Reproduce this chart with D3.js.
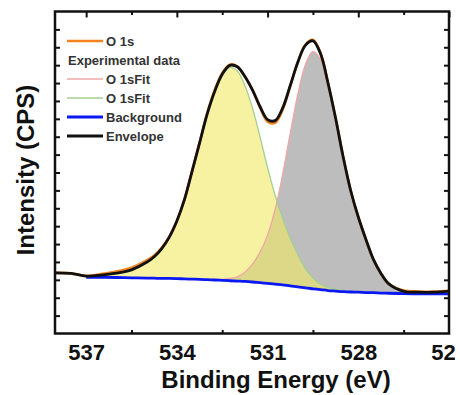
<!DOCTYPE html>
<html>
<head>
<meta charset="utf-8">
<script src="https://cdn.jsdelivr.net/npm/d3@7/dist/d3.min.js"></script>
<style>
  html, body { margin: 0; padding: 0; background: #fff; }
  svg { display: block; font-family: "Liberation Sans", Arial, sans-serif; }
</style>
</head>
<body>
<svg id="chart" width="460" height="395"></svg>
<script>
// binding energy grid (eV)
const energy = [538, 537.5, 537, 536.5, 536, 535.5,
    535, 534.75, 534.5, 534.25, 534, 533.75, 533.5, 533.25, 533, 532.75, 532.5, 532.25,
    532, 531.75, 531.5, 531.25, 531, 530.75, 530.5, 530.25, 530, 529.75, 529.5, 529.25,
    529, 528.75, 528.5, 528.25, 528, 527.75, 527.5, 527.25, 527,
    526.5, 526, 525.5, 525];

// O 1s raw counts (arb. units)
const o1sData = [3.39, 3.36, 3.22, 3.33, 3.47, 3.68,
    4.09, 4.36, 4.79, 5.41, 6.29, 7.48, 9.05, 10.67, 12.30, 13.60, 14.55, 15.03,
    14.92, 14.37, 13.60, 12.64, 11.84, 11.78, 12.52, 13.84, 15.16, 16.14, 16.42, 15.68,
    13.99, 12.03, 9.87, 7.98, 6.51, 5.27, 4.14, 3.36, 2.79,
    2.40, 2.35, 2.34, 2.39];

// lattice O component (pink edge, grey fill)
const fitLow = [null, null, 3.14, 3.14, 3.13, 3.11,
    3.10, 3.09, 3.08, 3.08, 3.07, 3.05, 3.04, 3.03, 3.01, 3.02, 3.03, 3.08,
    3.17, 3.43, 3.88, 4.55, 5.50, 6.93, 8.91, 11.20, 13.36, 15.03, 15.76, 15.34,
    13.81, 11.94, 9.82, 7.97, 6.51, 5.27, 4.14, 3.36, 2.79,
    2.31, 2.22, 2.22, 2.22];

// high BE component (green edge, yellow fill)
const fitHigh = [null, null, 3.21, 3.26, 3.37, 3.55,
    3.98, 4.29, 4.75, 5.39, 6.29, 7.48, 9.05, 10.64, 12.25, 13.51, 14.43, 14.87,
    14.67, 13.85, 12.61, 10.99, 9.27, 7.73, 6.42, 5.33, 4.41, 3.63, 3.10, 2.76,
    2.58, 2.47, 2.39, 2.33, 2.31, 2.29, 2.28, 2.26, 2.25,
    2.23, 2.22, 2.22, 2.22];

// Shirley background
const background = [null, null, 3.14, 3.14, 3.13, 3.11,
    3.10, 3.09, 3.08, 3.08, 3.07, 3.05, 3.04, 3.03, 3.01, 2.99, 2.97, 2.95,
    2.93, 2.91, 2.88, 2.84, 2.80, 2.76, 2.72, 2.66, 2.61, 2.55, 2.50, 2.45,
    2.40, 2.37, 2.34, 2.32, 2.31, 2.29, 2.28, 2.26, 2.25,
    2.23, 2.22, 2.22, 2.22];

const envelope = [3.39, 3.36, 3.21, 3.26, 3.37, 3.56,
    3.98, 4.29, 4.75, 5.39, 6.29, 7.48, 9.05, 10.64, 12.25, 13.53, 14.49, 14.99,
    14.91, 14.37, 13.62, 12.69, 11.96, 11.90, 12.61, 13.86, 15.16, 16.11, 16.36, 15.65,
    13.99, 12.03, 9.87, 7.98, 6.51, 5.27, 4.14, 3.36, 2.79,
    2.36, 2.31, 2.31, 2.37];

const xMajor = [537, 534, 531, 528, 525];
const xMinor = [535.5, 532.5, 529.5, 526.5];
const yTicks = [1, 2, 3, 4, 5, 6, 7, 8, 9, 10, 11, 12, 13, 14, 15, 16, 17];

const legendLabels = ["O 1s", "Experimental data", "O 1sFit", "O 1sFit", "Background", "Envelope"];
const legendKeys = ["data", null, "fitLow", "fitHigh", "bg", "env"];

const colors = {
    data: "#f5821f",
    fitLow: "#f2a6a6",
    fitHigh: "#a3cf93",
    bg: "#0a18f2",
    env: "#111111",
    fillLow: "#bdbdbd",
    fillHigh: "rgba(240,234,100,0.6)"
};
const widths = { data: 2.6, fitLow: 1.3, fitHigh: 1.3, bg: 2.8, env: 2.8 };

const svg = d3.select("#chart");
const plotLeft = 55, plotRight = 449, plotTop = 11.5, plotBottom = 333.5;

const x = d3.scaleLinear().domain([538.03, 525]).range([plotLeft, plotRight]);
const y = d3.scaleLinear().domain([0, 18]).range([plotBottom, plotTop]);

const rows = energy.map((e, i) => ({
    e: e,
    data: o1sData[i],
    fitLow: fitLow[i],
    fitHigh: fitHigh[i],
    bg: background[i],
    env: envelope[i]
}));

const curve = d3.curveCatmullRom.alpha(0.5);

const defs = svg.append("defs");
defs.append("clipPath").attr("id", "plotClip")
    .append("rect").attr("x", plotLeft).attr("y", plotTop)
    .attr("width", plotRight - plotLeft).attr("height", plotBottom - plotTop);
defs.append("clipPath").attr("id", "labelClip")
    .append("rect").attr("x", 0).attr("y", 0).attr("width", 455).attr("height", 395);

const plot = svg.append("g").attr("clip-path", "url(#plotClip)");

function areaFor(key) {
    return d3.area()
        .defined(d => d[key] != null && d.bg != null)
        .x(d => x(d.e))
        .y0(d => y(d.bg))
        .y1(d => y(d[key]))
        .curve(curve);
}
function lineFor(key) {
    return d3.line()
        .defined(d => d[key] != null)
        .x(d => x(d.e))
        .y(d => y(d[key]))
        .curve(curve);
}

// fills first, yellow sits over grey so the overlap goes olive
plot.append("path").attr("d", areaFor("fitLow")(rows)).attr("fill", colors.fillLow);
plot.append("path").attr("d", areaFor("fitHigh")(rows)).attr("fill", colors.fillHigh);

["fitLow", "fitHigh", "bg", "data", "env"].forEach(k => {
    plot.append("path")
        .attr("d", lineFor(k)(rows))
        .attr("fill", "none")
        .attr("stroke", colors[k])
        .attr("stroke-width", widths[k])
        .attr("stroke-linejoin", "round");
});

// axes, ticks pointing inwards
function styleAxis(g) {
    g.select(".domain").remove();
    g.selectAll(".tick line").attr("stroke", "#111").attr("stroke-width", 2);
}

const bottomLabels = svg.append("g")
    .attr("transform", `translate(0,${plotBottom})`)
    .attr("clip-path", "url(#labelClip)")
    .call(d3.axisBottom(x).tickValues(xMajor).tickSizeInner(-6).tickSizeOuter(0)
        .tickPadding(11).tickFormat(d3.format("d")))
    .call(styleAxis);
bottomLabels.selectAll("text")
    .attr("font-size", 22).attr("font-weight", "bold")
    .attr("font-family", "'Liberation Sans', Arial, sans-serif").attr("fill", "#111");

svg.append("g").attr("transform", `translate(0,${plotBottom})`)
    .call(d3.axisBottom(x).tickValues(xMinor).tickSize(-3.5).tickFormat(""))
    .call(styleAxis);
svg.append("g").attr("transform", `translate(0,${plotTop})`)
    .call(d3.axisTop(x).tickValues(xMajor).tickSize(-6).tickFormat(""))
    .call(styleAxis);
svg.append("g").attr("transform", `translate(0,${plotTop})`)
    .call(d3.axisTop(x).tickValues(xMinor).tickSize(-3.5).tickFormat(""))
    .call(styleAxis);
svg.append("g").attr("transform", `translate(${plotLeft},0)`)
    .call(d3.axisLeft(y).tickValues(yTicks).tickSize(-5).tickFormat(""))
    .call(styleAxis);
svg.append("g").attr("transform", `translate(${plotRight},0)`)
    .call(d3.axisRight(y).tickValues(yTicks).tickSize(-5).tickFormat(""))
    .call(styleAxis);

svg.append("rect")
    .attr("x", plotLeft).attr("y", plotTop)
    .attr("width", plotRight - plotLeft).attr("height", plotBottom - plotTop)
    .attr("fill", "none").attr("stroke", "#111").attr("stroke-width", 2.5);

// axis titles
svg.append("text")
    .attr("x", 276).attr("y", 388)
    .attr("text-anchor", "middle")
    .attr("font-size", 24).attr("font-weight", "bold").attr("fill", "#111")
    .text("Binding Energy (eV)");

svg.append("text")
    .attr("transform", "translate(34,170) rotate(-90)")
    .attr("text-anchor", "middle")
    .attr("font-size", 24).attr("font-weight", "bold").attr("fill", "#111")
    .text("Intensity (CPS)");

// legend
const legend = svg.append("g");
legendLabels.forEach((lab, i) => {
    const key = legendKeys[i];
    const cy = 41 + i * 19;
    if (key) {
        legend.append("line")
            .attr("x1", 67).attr("x2", 103).attr("y1", cy).attr("y2", cy)
            .attr("stroke", colors[key])
            .attr("stroke-width", key === "fitLow" || key === "fitHigh" ? 1.6 : widths[key]);
    }
    legend.append("text")
        .attr("x", key ? 106 : 68).attr("y", cy).attr("dy", "0.35em")
        .attr("font-size", 13).attr("font-weight", "bold").attr("fill", "#333")
        .text(lab);
});
</script>
</body>
</html>
